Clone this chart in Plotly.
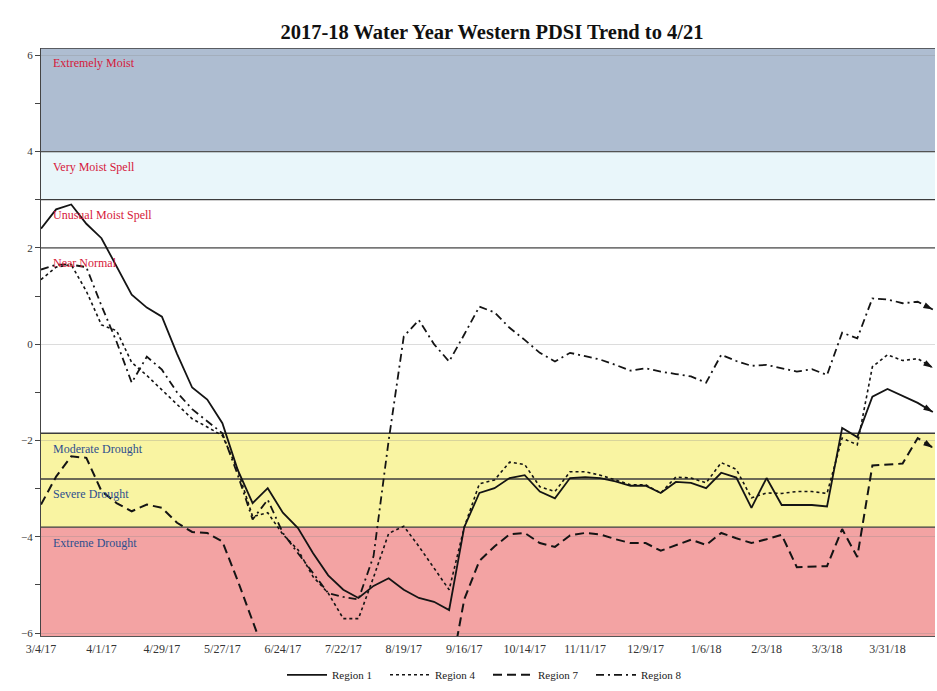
import pandas as pd
import plotly.graph_objects as go

# ---------------- data ----------------
start_date = "2017-03-04"
n_weeks = 60
week_dates = pd.date_range(start_date, periods=n_weeks, freq="7D")

region1 = [2.4, 2.8, 2.9, 2.5, 2.2, 1.6, 1.03, 0.76, 0.57, -0.2,
           -0.9, -1.15, -1.64, -2.6, -3.3, -2.99, -3.5, -3.82, -4.34, -4.8,
           -5.1, -5.27, -5.02, -4.86, -5.1, -5.27, -5.35, -5.52, -3.8, -3.09,
           -2.99, -2.78, -2.72, -3.06, -3.2, -2.78, -2.76, -2.78, -2.85, -2.94,
           -2.94, -3.09, -2.86, -2.88, -2.99, -2.67, -2.77, -3.4, -2.78, -3.34,
           -3.34, -3.34, -3.37, -1.74, -1.93, -1.09, -0.93, -1.07, -1.22, -1.41]

region4 = [1.34, 1.6, 1.65, 1.1, 0.4, 0.28, -0.38, -0.65, -0.95, -1.25,
           -1.55, -1.72, -1.9, -2.6, -3.58, -3.5, -3.95, -4.27, -4.83, -5.17,
           -5.7, -5.7, -4.84, -3.93, -3.78, -4.2, -4.65, -5.1, -3.8, -2.9,
           -2.82, -2.45, -2.5, -2.96, -3.06, -2.65, -2.65, -2.72, -2.82, -2.92,
           -2.92, -3.09, -2.76, -2.78, -2.88, -2.46, -2.6, -3.19, -3.09, -3.1,
           -3.06, -3.06, -3.1, -1.95, -2.09, -0.47, -0.22, -0.34, -0.3, -0.49]

region7 = [-3.33, -2.75, -2.33, -2.36, -3.05, -3.3, -3.47, -3.33, -3.4, -3.71,
           -3.9, -3.92, -4.1, -4.9, -5.75, -6.6, None, None, None, None,
           None, None, None, None, None, None, None, -7.0, -5.3, -4.5,
           -4.2, -3.95, -3.92, -4.13, -4.21, -3.97, -3.92, -3.95, -4.05, -4.13,
           -4.13, -4.29, -4.17, -4.06, -4.17, -3.92, -4.03, -4.13, -4.05, -3.96,
           -4.63, -4.62, -4.61, -3.84, -4.42, -2.52, -2.5, -2.48, -1.95, -2.15]

region8 = [1.55, 1.65, 1.65, 1.6, 0.8, 0.05, -0.8, -0.26, -0.53, -1.0,
           -1.35, -1.6, -1.85, -2.7, -3.64, -3.23, -3.92, -4.34, -4.76, -5.17,
           -5.25, -5.3, -4.4, -2.0, 0.16, 0.5, 0.0, -0.36, 0.2, 0.78,
           0.66, 0.34, 0.09, -0.18, -0.36, -0.18, -0.25, -0.32, -0.43, -0.55,
           -0.5, -0.57, -0.62, -0.67, -0.8, -0.22, -0.35, -0.45, -0.43, -0.5,
           -0.57, -0.52, -0.64, 0.24, 0.12, 0.95, 0.93, 0.85, 0.88, 0.72]

series_names = ["Region 1", "Region 4", "Region 7", "Region 8"]

tick_labels = ["3/4/17", "4/1/17", "4/29/17", "5/27/17", "6/24/17", "7/22/17",
               "8/19/17", "9/16/17", "10/14/17", "11/11/17", "12/9/17",
               "1/6/18", "2/3/18", "3/3/18", "3/31/18"]
tick_dates = pd.to_datetime(tick_labels, format="%m/%d/%y")

y_tick_values = [-6, -4, -2, 0, 2, 4, 6]

# PDSI category bands (top, bottom)
band_names = ["Extremely Moist", "Very Moist Spell", "Unusual Moist Spell", "Near Normal",
              "Moderate Drought", "Severe Drought", "Extreme Drought"]
band_tops = [6.15, 4, 3, 2, -1.85, -2.8, -3.8]
band_bottoms = [4, 3, 2, -1.85, -2.8, -3.8, -6.06]

# ---------------- styles ----------------
band_fill = ["#aebdd1", "#e9f6fa", "rgba(0,0,0,0)", "rgba(0,0,0,0)",
             "#f9f4a2", "#f9f4a2", "#f3a3a3"]
band_text_color = ["#d6183a"] * 4 + ["#2e4f8e"] * 3
line_dash = ["solid", "dot", "9px,5px", "8px,4px,2px,4px"]
line_width = [1.8, 1.6, 2.0, 1.8]
line_color = "#141414"
serif = "Liberation Serif, Times New Roman, serif"

fig = go.Figure()

all_series = [region1, region4, region7, region8]
for name, vals, dsh, wd in zip(series_names, all_series, line_dash, line_width):
    fig.add_trace(go.Scatter(
        x=week_dates, y=vals, name=name, mode="lines",
        line=dict(color=line_color, width=wd, dash=dsh),
        connectgaps=False,
    ))
for vals in all_series:
    # arrow head at the end of each line (direction from the previous point)
    fig.add_trace(go.Scatter(
        x=list(week_dates[-2:]), y=list(vals[-2:]), mode="markers",
        showlegend=False, hoverinfo="skip",
        marker=dict(symbol="arrow", angleref="previous", size=10,
                    opacity=[0, 1], color=line_color),
        cliponaxis=False,
    ))

shapes = []
for top, bot, fill in zip(band_tops, band_bottoms, band_fill):
    shapes.append(dict(type="rect", xref="paper", yref="y", x0=0, x1=1,
                       y0=bot, y1=top, fillcolor=fill, line=dict(width=0),
                       layer="below"))
for top in band_tops:
    shapes.append(dict(type="line", xref="paper", yref="y", x0=0, x1=1,
                       y0=top, y1=top, line=dict(color="#3c3c3c", width=1.3),
                       layer="below"))

annotations = []
for name, top, col in zip(band_names, band_tops, band_text_color):
    annotations.append(dict(xref="paper", yref="y", x=0.011, y=top - 0.32,
                            text=name, showarrow=False, xanchor="left",
                            yanchor="middle",
                            font=dict(family=serif, size=12, color=col)))

fig.update_layout(
    width=937, height=691,
    margin=dict(l=41, r=2, t=48, b=55, autoexpand=False),
    paper_bgcolor="white", plot_bgcolor="white",
    title=dict(text="<b>2017-18 Water Year Western PDSI Trend to 4/21</b>",
               x=0.525, xanchor="center", y=0.954, yanchor="middle",
               font=dict(family=serif, size=20.5, color="#111111")),
    font=dict(family=serif, color="#333333"),
    shapes=shapes,
    annotations=annotations,
    showlegend=True,
    legend=dict(orientation="h", x=0.5, xanchor="center", y=-0.066,
                yanchor="middle", font=dict(family=serif, size=11, color="#222222"),
                bgcolor="rgba(0,0,0,0)", itemwidth=40, entrywidth=48),
)

fig.update_xaxes(
    type="date", range=["2017-03-04", "2018-04-22"],
    tickvals=tick_dates, ticktext=tick_labels,
    tickfont=dict(family=serif, size=12, color="#333333"),
    showgrid=False, zeroline=False, showline=True, linecolor="#555555",
    linewidth=1.2, ticks="", ticklabelstandoff=1, automargin=False,
)
fig.update_yaxes(
    range=[-6.06, 6.15], tickvals=y_tick_values,
    tickfont=dict(family=serif, size=11, color="#333333"),
    showgrid=True, gridcolor="rgba(140,140,140,0.3)", gridwidth=1,
    zeroline=False, showline=True, linecolor="#444444", linewidth=1.2,
    ticks="outside", ticklen=5, tickcolor="#444444", automargin=False,
    minor=dict(dtick=1, tick0=0, ticks="outside", ticklen=5, tickcolor="#444444",
               showgrid=False),
)

fig.write_html("out.html",
               config={"displayModeBar": False},
               post_script="document.body.style.margin='0px';"
                           "document.body.style.padding='0px';")
